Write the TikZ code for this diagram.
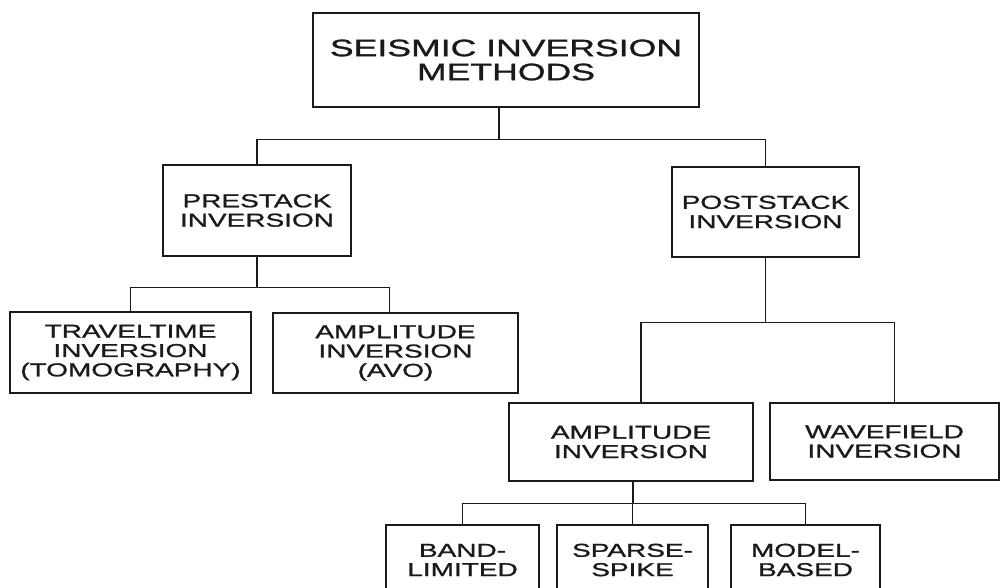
\documentclass[tikz,border=0pt]{standalone}
\usepackage{fontspec}
\setmainfont{Liberation Sans}[FakeStretch=1.5,FakeBold=1.2]
\usepackage{tikz}
\usetikzlibrary{positioning,calc}
\definecolor{ink}{HTML}{1A1A1A}
\tikzset{
  box/.style={draw=ink, line width=1.1pt, fill=white, align=center, inner sep=0pt, text=ink, font=\fontsize{14}{14.5}\selectfont},
  bigbox/.style={box, font=\fontsize{17.8}{18}\selectfont},
  link/.style={draw=ink, line width=1.1pt}
}
\begin{document}
\begin{tikzpicture}[x=0.75pt,y=-0.75pt]
\useasboundingbox (0,0) rectangle (1001,587);
\fill[white] (0,0) rectangle (1001,587);
\node[bigbox, minimum width=289.5pt, minimum height=70.5pt] (top) at (506,60) {SEISMIC INVERSION\\METHODS};
\node[box, minimum width=141pt, minimum height=68.25pt] (pre) at (257,210.5) {PRESTACK\\INVERSION};
\node[box, minimum width=140.25pt, minimum height=67.5pt] (post) at (765.5,212) {POSTSTACK\\INVERSION};
\node[box, minimum width=180.75pt, minimum height=60.75pt] (trav) at (130.5,352.5) {TRAVELTIME\\INVERSION\\(TOMOGRAPHY)};
\node[box, minimum width=183.75pt, minimum height=60pt] (avo) at (395.5,353) {AMPLITUDE\\INVERSION\\(AVO)};
\node[box, minimum width=183pt, minimum height=58.5pt] (amp) at (631,442) {AMPLITUDE\\INVERSION};
\node[box, minimum width=171.75pt, minimum height=57.75pt] (wave) at (884.5,441.5) {WAVEFIELD\\INVERSION};
\node[box, minimum width=114.75pt, minimum height=52.5pt] (band) at (462.5,560) {BAND-\\LIMITED};
\node[box, minimum width=113.25pt, minimum height=52.5pt] (sparse) at (632.5,560) {SPARSE-\\SPIKE};
\node[box, minimum width=111.75pt, minimum height=52.5pt] (model) at (805.5,560) {MODEL-\\BASED};
\draw[link] ([xshift=-5.25pt]top.south) -- ++(0,32) -| (pre.north);
\draw[link] ([xshift=-5.25pt]top.south) -- ++(0,32) -| (post.north);
\draw[link] (pre.south) -- ++(0,31) -| (trav.north);
\draw[link] (pre.south) -- ++(0,31) -| ([xshift=-4.5pt]avo.north);
\draw[link] (post.south) -- ++(0,65) -| ([xshift=7.5pt]amp.north);
\draw[link] (post.south) -- ++(0,65) -| ([xshift=7.5pt]wave.north);
\draw[link] ([xshift=1.5pt]amp.south) -- ++(0,22) -| (band.north);
\draw[link] ([xshift=1.5pt]amp.south) -- ++(0,22) -| (sparse.north);
\draw[link] ([xshift=1.5pt]amp.south) -- ++(0,22) -| (model.north);
\end{tikzpicture}
\end{document}
